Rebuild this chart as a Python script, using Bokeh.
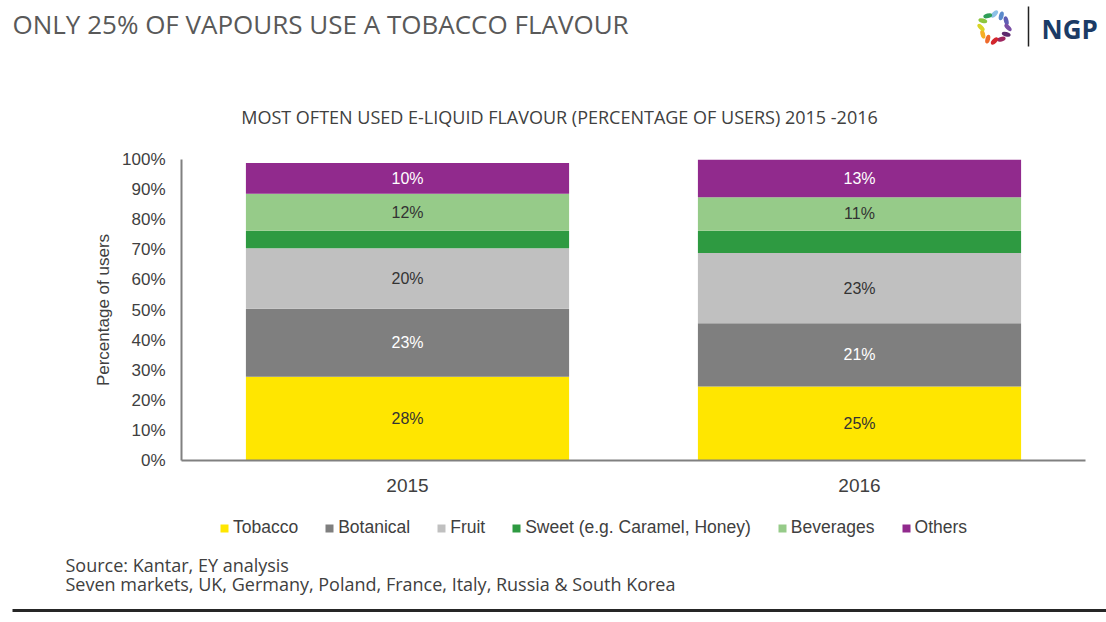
import math
from bokeh.plotting import figure
from bokeh.layouts import column
from bokeh.models import (ColumnDataSource, Legend, LegendItem, FactorRange, Range1d,
                          FixedTicker, PrintfTickFormatter)
from bokeh.core.properties import value
from bokeh.embed import file_html
from bokeh.resources import INLINE

# ---------------- data ----------------
years = ["2015", "2016"]
flavours = ["Tobacco", "Botanical", "Fruit", "Sweet (e.g. Caramel, Honey)", "Beverages", "Others"]
tobacco = [27.8, 24.6]
botanical = [22.6, 21.0]
fruit = [20.1, 23.3]
sweet = [5.8, 7.4]
beverages = [12.3, 11.2]
others = [10.2, 12.6]
y_ticks = [0, 10, 20, 30, 40, 50, 60, 70, 80, 90, 100]
labelled = [True, True, True, False, True, True]

title_text = "ONLY 25% OF VAPOURS USE A TOBACCO FLAVOUR"
subtitle_text = "MOST OFTEN USED E-LIQUID FLAVOUR (PERCENTAGE OF USERS) 2015 -2016"
source_lines = ["Source: Kantar, EY analysis",
                "Seven markets, UK, Germany, Poland, France, Italy, Russia & South Korea"]
brand = "NGP"

# ---------------- styles ----------------
colors = ["#FFE600", "#7F7F7F", "#C0C0C0", "#2E9A41", "#96CB89", "#912A8D"]
label_colors = ["#333333", "#FFFFFF", "#333333", "#333333", "#333333", "#FFFFFF"]
ring_colors = ["#8CC0E6", "#5B8ACB", "#5F5DB3", "#7A4FA5", "#5E2A6E", "#9E2660",
               "#D3262D", "#EE6A2B", "#F6AE25", "#D9D425", "#8CC63F", "#2E9E57"]
SANS = "Liberation Sans"
OPEN = "Open Sans"
W = 1106
H_HEAD, H_MAIN, H_FOOT = 140, 365, 117
NAN = float("nan")


def blank(height, y0):
    f = figure(width=W, height=height, x_range=Range1d(0, W), y_range=Range1d(y0 + height, y0),
               x_axis_type=None, y_axis_type=None, output_backend="svg", toolbar_location=None,
               min_border=0, min_border_left=0, min_border_right=0, min_border_top=0, min_border_bottom=0,
               frame_align=False)
    f.outline_line_color = None
    return f


# ---------------- header ----------------
head = blank(H_HEAD, 0)
head.text(x=[12], y=[23], text=[title_text], text_font=value(OPEN), text_font_size="26px",
          text_color="#595959", text_baseline="middle")
head.text(x=[559], y=[116.5], text=[subtitle_text], text_font=value(OPEN), text_font_size="18px",
          text_color="#404040", text_align="center", text_baseline="middle")
n = len(ring_colors)
ang = [math.pi / 2 - 2 * math.pi * i / n for i in range(n)]
head.ellipse(x=[994 + 13.5 * math.cos(a) for a in ang], y=[27 - 13.5 * math.sin(a) for a in ang],
             width=9, height=4.6, angle=[-(a + math.pi / 4) for a in ang],
             fill_color=ring_colors, line_color=None)
head.segment(x0=[1028], y0=[6], x1=[1028], y1=[46], line_color="#222222", line_width=1.5)
head.text(x=[1041], y=[28.5], text=[brand], text_font=value(OPEN), text_font_style="bold",
          text_font_size="26px", text_color="#1B3B66", text_baseline="middle")

# ---------------- main chart ----------------
series = [tobacco, botanical, fruit, sweet, beverages, others]
keys = ["s%d" % i for i in range(len(series))]
data = {"year": years}
for k, s in zip(keys, series):
    data[k] = s
src = ColumnDataSource(data)

p = figure(x_range=FactorRange(factors=years), y_range=Range1d(0, 100),
           width=W, height=H_MAIN, output_backend="svg", toolbar_location=None,
           min_border_left=181, min_border_right=21, min_border_top=19, min_border_bottom=45,
           frame_align=False)
p.outline_line_color = None
p.xgrid.visible = False
p.ygrid.visible = False

renderers = p.vbar_stack(keys, x="year", width=0.715, color=colors, line_color=None, source=src)

lx, ly, lt, lc = [], [], [], []
for j, yr in enumerate(years):
    base = 0.0
    for i, s in enumerate(series):
        v = s[j]
        if labelled[i]:
            lx.append(yr)
            ly.append(base + v / 2)
            lt.append("%d%%" % round(v))
            lc.append(label_colors[i])
        base += v
p.text(x=lx, y=ly, text=lt, text_color=lc, text_align="center", text_baseline="middle",
       text_font=value(SANS), text_font_size="16px")

p.yaxis.ticker = FixedTicker(ticks=y_ticks)
p.yaxis.formatter = PrintfTickFormatter(format="%d%%")
for ax in (p.xaxis[0], p.yaxis[0]):
    ax.axis_line_color = "#808080"
    ax.axis_line_width = 2
    ax.major_tick_line_color = None
    ax.minor_tick_line_color = None
    ax.major_tick_out = 0
    ax.major_tick_in = 0
    ax.minor_tick_out = 0
    ax.minor_tick_in = 0
    ax.major_label_text_color = "#404040"
p.yaxis.major_label_text_font = SANS
p.yaxis.major_label_text_font_size = "17px"
p.yaxis.major_label_standoff = 16
p.yaxis.axis_label = "Percentage of users"
p.yaxis.axis_label_text_font = SANS
p.yaxis.axis_label_text_font_style = "normal"
p.yaxis.axis_label_text_font_size = "17px"
p.yaxis.axis_label_text_color = "#404040"
p.yaxis.axis_label_standoff = 6
p.xaxis.major_label_text_font = SANS
p.xaxis.major_label_text_font_size = "19px"
p.xaxis.major_label_standoff = 18

# ---------------- footer: legend + source ----------------
foot = blank(H_FOOT, H_HEAD + H_MAIN)
swatches = [foot.quad(left=[NAN], right=[NAN], top=[NAN], bottom=[NAN], fill_color=c, line_color=None)
            for c in colors]
items = [LegendItem(label=f, renderers=[r]) for f, r in zip(flavours, swatches)]
legend = Legend(items=items, orientation="horizontal", location=(219, 84),
                glyph_width=10, glyph_height=10, label_height=10, label_standoff=4, spacing=26,
                padding=0, margin=0, border_line_color=None, background_fill_alpha=0,
                label_text_font=SANS, label_text_font_size="17.5px", label_text_color="#404040",
                label_text_line_height=0.5)
foot.add_layout(legend, "center")
foot.text(x=[65, 65], y=[564.5, 583.5], text=source_lines, text_font=value(OPEN), text_font_size="18px",
          text_color="#404040", text_baseline="middle")
foot.quad(left=[12], right=[W], bottom=[611.5], top=[608.5], fill_color="#262626", line_color=None)

layout = column(head, p, foot, spacing=0)
open("out.html", "w").write(file_html(layout, INLINE))
